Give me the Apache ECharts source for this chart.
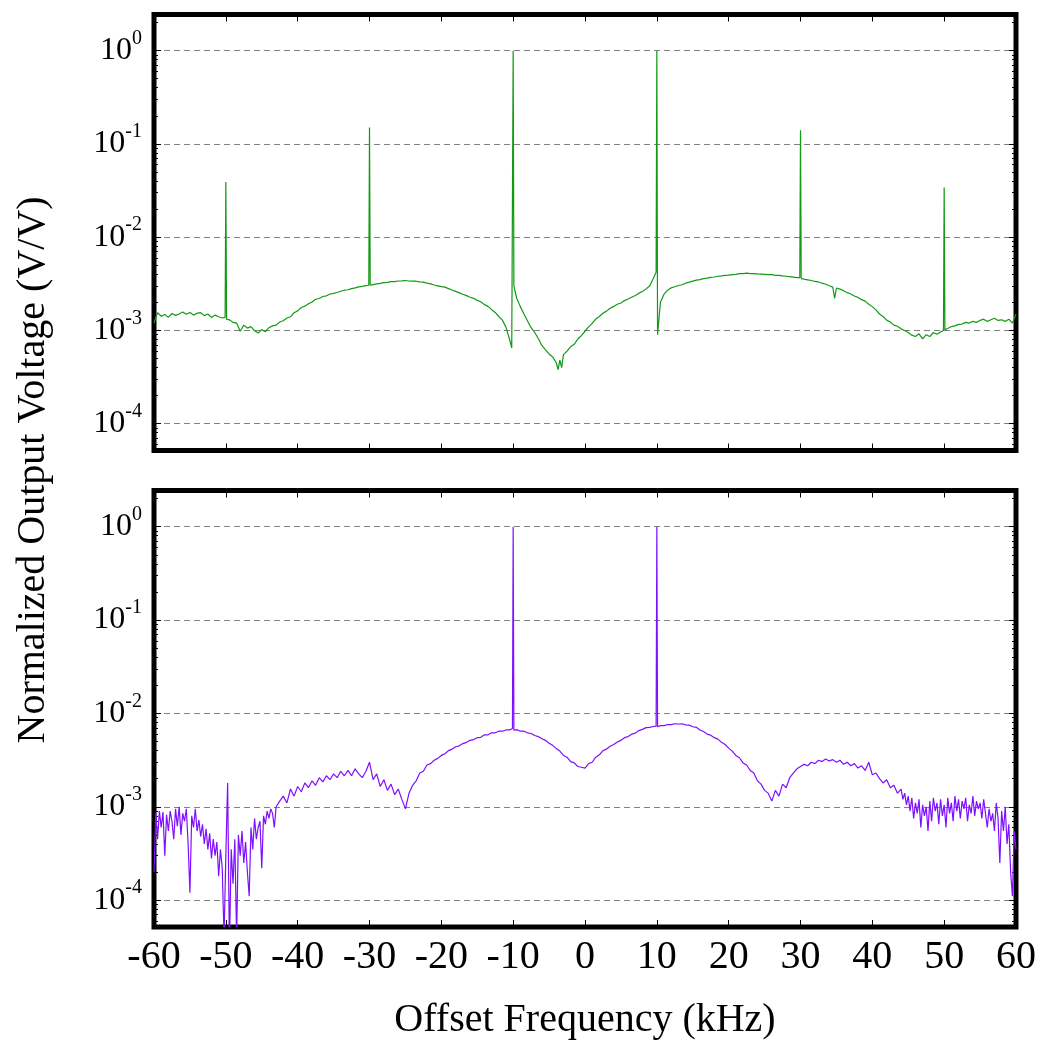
<!DOCTYPE html>
<html>
<head>
<meta charset="utf-8">
<script src="https://cdn.jsdelivr.net/npm/echarts@6/dist/echarts.min.js"></script>
<style>
html,body{margin:0;padding:0;background:#fff;}
#chart{width:1041px;height:1050px;}
</style>
</head>
<body>
<div id="chart"></div>
<script>
// ---------- DATA ----------
const xTicks = [-60,-50,-40,-30,-20,-10,0,10,20,30,40,50,60];
const yDecadeValues = [1e-4,1e-3,1e-2,1e-1,1];
const yMinorMantissas = [2,3,4,5,6,7,8,9];
const yMinorExponents = [-5,-4,-3,-2,-1,0];

// Top panel (green)
const greenFreq = [
  -60,-59.5,-59,-58.5,-58,-57.5,-57,-56.5,-56,-55.5,
  -55,-54.5,-54,-53.5,-53,-52.5,-52,-51.5,-51,-50.5,
  -50.1,-50,-49.9,-49.5,-49,-48.5,-48,-47.5,-47,-46.5,-46,-45.5,
  -45,-44.5,-44,-43.5,-43,-42.5,-42,-41.5,-41,-40.5,
  -40,-39.5,-39,-38.5,-38,-37.5,-37,-36.5,-36,-35.5,
  -35,-34.5,-34,-33.5,-33,-32.5,-32,-31.5,-31,-30.5,
  -30.1,-30,-29.9,-29.5,-29,-28.5,-28,-27.5,-27,-26.5,-26,-25.5,
  -25,-24.5,-24,-23.5,-23,-22.5,-22,-21.5,-21,-20.5,
  -20,-19.5,-19,-18.5,-18,-17.5,-17,-16.5,-16,-15.5,
  -15,-14.5,-14,-13.5,-13,-12.5,-12,-11.5,-11,-10.5,-10.2,
  -10,-9.9,-9.5,-9,-8.5,-8,-7.5,-7,-6.5,-6,-5.5,
  -5,-4.5,-4,-3.75,-3.5,-3.25,-3,-2.5,-2,-1.5,-1,-0.5,
  0,0.5,1,1.5,2,2.5,3,3.5,4,4.5,
  5,5.5,6,6.5,7,7.5,8,8.5,9,9.5,9.9,
  10,10.1,10.5,11,11.5,12,12.5,13,13.5,14,14.5,
  15,15.5,16,16.5,17,17.5,18,18.5,19,19.5,
  20,20.5,21,21.5,22,22.5,23,23.5,24,24.5,
  25,25.5,26,26.5,27,27.5,28,28.5,29,29.5,29.9,
  30,30.1,30.5,31,31.5,32,32.5,33,33.5,34,34.5,34.75,
  35,35.5,36,36.5,37,37.5,38,38.5,39,39.5,
  40,40.5,41,41.5,42,42.5,43,43.5,44,44.5,
  45,45.5,46,46.5,47,47.5,48,48.5,49,49.5,49.9,
  50,50.1,50.5,51,51.5,52,52.5,53,53.5,54,54.5,
  55,55.5,56,56.5,57,57.5,58,58.5,59,59.5,60
];
const greenVolt = [
  1.20e-3,1.55e-3,1.42e-3,1.48e-3,1.38e-3,1.52e-3,1.45e-3,1.50e-3,1.58e-3,1.49e-3,
  1.56e-3,1.46e-3,1.53e-3,1.55e-3,1.44e-3,1.50e-3,1.38e-3,1.46e-3,1.40e-3,1.36e-3,
  1.38e-3,0.039,1.32e-3,1.30e-3,1.22e-3,1.20e-3,0.98e-3,1.14e-3,1.06e-3,1.10e-3,0.99e-3,0.94e-3,
  1.02e-3,0.97e-3,1.07e-3,1.12e-3,1.14e-3,1.23e-3,1.27e-3,1.36e-3,1.40e-3,1.55e-3,
  1.62e-3,1.76e-3,1.82e-3,1.93e-3,2.02e-3,2.16e-3,2.20e-3,2.31e-3,2.35e-3,2.46e-3,
  2.50e-3,2.55e-3,2.63e-3,2.70e-3,2.73e-3,2.81e-3,2.86e-3,2.93e-3,2.97e-3,3.02e-3,
  3.05e-3,0.15,3.05e-3,3.10e-3,3.16e-3,3.20e-3,3.26e-3,3.27e-3,3.33e-3,3.34e-3,3.39e-3,3.40e-3,
  3.43e-3,3.39e-3,3.38e-3,3.37e-3,3.31e-3,3.29e-3,3.21e-3,3.16e-3,3.07e-3,3.01e-3,
  2.95e-3,2.91e-3,2.81e-3,2.71e-3,2.62e-3,2.53e-3,2.44e-3,2.36e-3,2.27e-3,2.21e-3,
  2.10e-3,2.03e-3,1.89e-3,1.81e-3,1.67e-3,1.56e-3,1.41e-3,1.29e-3,1.08e-3,0.80e-3,0.65e-3,
  1.0,3.0e-3,2.2e-3,1.80e-3,1.50e-3,1.26e-3,1.07e-3,0.95e-3,0.82e-3,0.69e-3,0.62e-3,
  0.56e-3,0.52e-3,0.45e-3,0.38e-3,0.48e-3,0.40e-3,0.55e-3,0.60e-3,0.67e-3,0.71e-3,0.81e-3,0.88e-3,
  0.98e-3,1.09e-3,1.19e-3,1.33e-3,1.41e-3,1.53e-3,1.61e-3,1.73e-3,1.81e-3,1.91e-3,
  1.97e-3,2.09e-3,2.17e-3,2.27e-3,2.37e-3,2.51e-3,2.61e-3,2.79e-3,3.00e-3,3.60e-3,4.20e-3,
  1.0,0.90e-3,2.0e-3,2.45e-3,2.70e-3,2.86e-3,2.94e-3,3.03e-3,3.09e-3,3.21e-3,3.29e-3,
  3.38e-3,3.46e-3,3.51e-3,3.59e-3,3.64e-3,3.71e-3,3.74e-3,3.81e-3,3.84e-3,3.89e-3,
  3.92e-3,3.96e-3,3.99e-3,4.06e-3,4.07e-3,4.11e-3,4.07e-3,4.07e-3,4.04e-3,4.02e-3,
  4.00e-3,3.97e-3,3.96e-3,3.89e-3,3.89e-3,3.84e-3,3.81e-3,3.77e-3,3.73e-3,3.69e-3,3.68e-3,
  0.14,3.60e-3,3.55e-3,3.49e-3,3.43e-3,3.35e-3,3.31e-3,3.21e-3,3.13e-3,3.01e-3,2.91e-3,2.20e-3,
  2.85e-3,2.77e-3,2.66e-3,2.54e-3,2.46e-3,2.34e-3,2.26e-3,2.14e-3,2.06e-3,1.91e-3,
  1.80e-3,1.66e-3,1.50e-3,1.41e-3,1.29e-3,1.23e-3,1.14e-3,1.11e-3,1.04e-3,1.00e-3,
  0.95e-3,0.89e-3,0.86e-3,0.92e-3,0.81e-3,0.90e-3,0.86e-3,0.95e-3,0.91e-3,0.96e-3,1.00e-3,
  0.034,1.02e-3,1.05e-3,1.10e-3,1.12e-3,1.16e-3,1.17e-3,1.22e-3,1.20e-3,1.25e-3,1.22e-3,
  1.28e-3,1.32e-3,1.25e-3,1.30e-3,1.35e-3,1.28e-3,1.30e-3,1.25e-3,1.32e-3,1.20e-3,1.50e-3
];

// Bottom panel (purple)
const purpleFreq = [
  -60,-59.75,-59.5,-59.25,-59,-58.75,-58.5,-58.25,-58,-57.75,
  -57.5,-57.25,-57,-56.75,-56.5,-56.25,-56,-55.75,-55.5,-55.25,
  -55,-54.75,-54.5,-54.25,-54,-53.75,-53.5,-53.25,-53,-52.75,
  -52.5,-52.25,-52,-51.75,-51.5,-51.25,-51,-50.75,-50.5,-50.25,
  -50,-49.75,-49.5,-49.25,-49,-48.75,-48.5,-48.25,-48,-47.75,
  -47.5,-47.25,-47,-46.75,-46.5,-46.25,-46,-45.75,-45.5,-45.25,
  -45,-44.75,-44.5,-44.25,-44,-43.75,-43.5,-43.25,-43,
  -42.5,-42,-41.5,-41,-40.5,-40,-39.5,-39,-38.5,-38,
  -37.5,-37,-36.5,-36,-35.5,-35,-34.5,-34,-33.5,-33,
  -32.5,-32,-31.5,-31,-30.5,-30,-29.5,-29,-28.5,-28,
  -27.5,-27,-26.5,-26,-25.5,-25,-24.5,-24,-23.5,-23,
  -22.5,-22,-21.5,-21,-20.5,-20,-19.5,-19,-18.5,-18,
  -17.5,-17,-16.5,-16,-15.5,-15,-14.5,-14,-13.5,-13,
  -12.5,-12,-11.5,-11,-10.5,-10.1,-10,-9.9,-9.5,-9,
  -8.5,-8,-7.5,-7,-6.5,-6,-5.5,-5,-4.5,-4,
  -3.5,-3,-2.5,-2,-1.5,-1,-0.5,0,0.5,1,
  1.5,2,2.5,3,3.5,4,4.5,5,5.5,6,
  6.5,7,7.5,8,8.5,9,9.5,9.9,10,10.1,
  10.5,11,11.5,12,12.5,13,13.5,14,14.5,15,
  15.5,16,16.5,17,17.5,18,18.5,19,19.5,20,
  20.5,21,21.5,22,22.5,23,23.5,24,24.5,25,
  25.5,26,26.5,27,27.5,28,28.5,29,29.5,30,
  30.5,31,31.5,32,32.5,33,33.5,34,34.5,35,
  35.5,36,36.5,37,37.5,38,38.5,39,39.5,40,
  40.5,41,41.5,42,42.5,43,43.5,44,
  44.25,44.5,44.75,45,45.25,45.5,45.75,46,46.25,46.5,
  46.75,47,47.25,47.5,47.75,48,48.25,48.5,48.75,49,
  49.25,49.5,49.75,50,50.25,50.5,50.75,51,51.25,51.5,
  51.75,52,52.25,52.5,52.75,53,53.25,53.5,53.75,54,
  54.25,54.5,54.75,55,55.25,55.5,55.75,56,56.25,56.5,
  56.75,57,57.25,57.5,57.75,58,58.25,58.5,58.75,59,
  59.25,59.5,59.75,60
];
const purpleVolt = [
  0.20e-3,0.85e-3,0.45e-3,0.90e-3,0.60e-3,0.88e-3,0.30e-3,0.82e-3,0.55e-3,0.90e-3,
  0.70e-3,0.45e-3,0.95e-3,0.62e-3,1.00e-3,0.50e-3,0.85e-3,0.70e-3,0.95e-3,0.40e-3,
  0.12e-3,0.80e-3,0.60e-3,0.95e-3,0.55e-3,0.72e-3,0.48e-3,0.65e-3,0.40e-3,0.58e-3,
  0.35e-3,0.52e-3,0.28e-3,0.45e-3,0.30e-3,0.42e-3,0.18e-3,0.35e-3,0.22e-3,0.04e-3,
  0.30e-3,1.80e-3,0.03e-3,0.35e-3,0.15e-3,0.45e-3,0.04e-3,0.50e-3,0.30e-3,0.55e-3,
  0.25e-3,0.42e-3,0.20e-3,0.11e-3,0.60e-3,0.35e-3,0.75e-3,0.45e-3,0.60e-3,0.70e-3,
  0.22e-3,0.80e-3,0.65e-3,0.90e-3,0.75e-3,0.95e-3,0.85e-3,0.60e-3,1.00e-3,
  1.15e-3,1.30e-3,1.10e-3,1.55e-3,1.30e-3,1.65e-3,1.45e-3,1.80e-3,1.60e-3,1.90e-3,
  1.70e-3,2.05e-3,1.85e-3,2.15e-3,1.95e-3,2.25e-3,2.05e-3,2.40e-3,2.15e-3,2.45e-3,
  2.15e-3,2.55e-3,2.25e-3,2.05e-3,2.40e-3,3.00e-3,1.95e-3,2.25e-3,1.65e-3,1.95e-3,
  1.50e-3,1.75e-3,1.35e-3,1.55e-3,1.20e-3,0.95e-3,1.40e-3,1.70e-3,1.90e-3,2.30e-3,
  2.40e-3,2.80e-3,2.90e-3,3.15e-3,3.30e-3,3.55e-3,3.70e-3,4.00e-3,4.15e-3,4.40e-3,
  4.50e-3,4.75e-3,4.90e-3,5.15e-3,5.25e-3,5.50e-3,5.55e-3,5.90e-3,5.90e-3,6.20e-3,
  6.20e-3,6.45e-3,6.45e-3,6.65e-3,6.65e-3,6.90e-3,1.0,6.60e-3,6.70e-3,6.45e-3,
  6.45e-3,6.20e-3,6.10e-3,5.80e-3,5.65e-3,5.35e-3,5.15e-3,4.80e-3,4.55e-3,4.20e-3,
  3.95e-3,3.55e-3,3.40e-3,3.05e-3,2.95e-3,2.70e-3,2.65e-3,2.60e-3,2.90e-3,3.00e-3,
  3.40e-3,3.60e-3,4.00e-3,4.15e-3,4.45e-3,4.65e-3,4.95e-3,5.15e-3,5.50e-3,5.65e-3,
  6.00e-3,6.15e-3,6.55e-3,6.75e-3,7.05e-3,7.10e-3,7.25e-3,7.30e-3,1.0,7.20e-3,
  7.40e-3,7.40e-3,7.60e-3,7.60e-3,7.75e-3,7.70e-3,7.75e-3,7.55e-3,7.50e-3,7.20e-3,
  7.10e-3,6.65e-3,6.40e-3,6.00e-3,5.85e-3,5.50e-3,5.30e-3,4.90e-3,4.65e-3,4.25e-3,
  3.95e-3,3.55e-3,3.35e-3,2.95e-3,2.80e-3,2.45e-3,2.30e-3,1.90e-3,1.75e-3,1.50e-3,
  1.40e-3,1.15e-3,1.50e-3,1.30e-3,1.75e-3,1.60e-3,2.05e-3,2.30e-3,2.55e-3,2.70e-3,
  2.85e-3,2.75e-3,3.00e-3,2.90e-3,3.15e-3,3.05e-3,3.25e-3,3.10e-3,3.20e-3,3.00e-3,
  3.15e-3,2.85e-3,3.00e-3,2.75e-3,2.90e-3,2.60e-3,2.75e-3,2.45e-3,3.00e-3,2.20e-3,
  2.30e-3,2.00e-3,1.80e-3,1.95e-3,1.60e-3,1.70e-3,1.40e-3,1.55e-3,
  1.20e-3,1.40e-3,1.05e-3,1.30e-3,0.90e-3,1.25e-3,0.75e-3,1.10e-3,0.85e-3,1.20e-3,
  0.60e-3,1.05e-3,0.80e-3,1.00e-3,0.55e-3,1.15e-3,0.70e-3,1.25e-3,0.90e-3,1.10e-3,
  0.65e-3,1.20e-3,0.80e-3,1.05e-3,0.60e-3,1.25e-3,0.85e-3,1.10e-3,0.70e-3,1.30e-3,
  0.90e-3,1.20e-3,0.75e-3,1.15e-3,0.95e-3,1.25e-3,0.70e-3,1.05e-3,0.85e-3,1.30e-3,
  0.80e-3,1.15e-3,0.95e-3,1.10e-3,0.75e-3,1.20e-3,0.85e-3,0.60e-3,0.95e-3,0.70e-3,
  0.85e-3,0.55e-3,1.10e-3,0.75e-3,0.25e-3,0.90e-3,0.55e-3,1.00e-3,0.40e-3,0.65e-3,
  0.20e-3,0.11e-3,0.55e-3,0.35e-3
];

// ---------- CHART ----------
const FONT = "'Liberation Serif', 'Times New Roman', serif";
const Y_MIN = 5.16e-5, Y_MAX = 2.44;

const greenData = greenFreq.map((f, i) => [f, greenVolt[i]]);
const purpleData = purpleFreq.map((f, i) => [f, purpleVolt[i]]);

const yMinorVals = [];
yMinorExponents.forEach(e => yMinorMantissas.forEach(m => {
  const v = m * Math.pow(10, e);
  if (v > Y_MIN && v < Y_MAX) yMinorVals.push(v);
}));

function yLabelFmt(v) {
  const e = Math.log10(v);
  const r = Math.round(e);
  if (Math.abs(e - r) > 1e-6) return '';
  return '{b|10}{s|' + r + '}';
}

function xAxisCfg(grid, pos, labels) {
  return {
    gridIndex: grid, type: 'value', min: -60, max: 60, interval: 10, position: pos,
    axisLine: {show: false, onZero: false},
    axisTick: {show: true, inside: true, length: 7, customValues: xTicks, lineStyle: {color: '#000', width: 1}},
    axisLabel: {show: labels, fontSize: 40, fontFamily: FONT, color: '#000', margin: 10,
      customValues: xTicks, formatter: v => String(v)},
    splitLine: {show: false}
  };
}
function yMainAxis(grid) {
  return {
    gridIndex: grid, type: 'log', logBase: 10, min: Y_MIN, max: Y_MAX, position: 'left',
    axisLine: {show: false, onZero: false},
    axisTick: {show: true, inside: true, length: 7, customValues: yDecadeValues,
      lineStyle: {color: '#000', width: 1}},
    axisLabel: {show: true, margin: 12, formatter: yLabelFmt, customValues: yDecadeValues,
      rich: {
        b: {fontSize: 32, fontFamily: FONT, color: '#000'},
        s: {fontSize: 20, fontFamily: FONT, color: '#000', padding: [0, 0, 24, 0]}
      }},
    splitLine: {show: true, lineStyle: {type: [6, 4], color: '#808080', width: 1}},
    minorTick: {show: false}
  };
}
function yTickAxis(grid, pos, vals, len) {
  return {
    gridIndex: grid, type: 'log', logBase: 10, min: Y_MIN, max: Y_MAX, position: pos,
    axisLine: {show: false, onZero: false},
    axisTick: {show: true, inside: true, length: len, customValues: vals,
      lineStyle: {color: '#000', width: 1}},
    axisLabel: {show: false},
    splitLine: {show: false},
    minorTick: {show: false}
  };
}

const chart = echarts.init(document.getElementById('chart'), null, {renderer: 'canvas'});
chart.setOption({
  animation: false,
  backgroundColor: '#fff',
  grid: [
    {left: 154, top: 14.5, width: 862, height: 436, show: true, borderColor: '#000', borderWidth: 5, backgroundColor: 'transparent'},
    {left: 154, top: 490.5, width: 862, height: 436.5, show: true, borderColor: '#000', borderWidth: 5, backgroundColor: 'transparent'}
  ],
  xAxis: [
    xAxisCfg(0, 'bottom', false), xAxisCfg(0, 'top', false),
    xAxisCfg(1, 'bottom', true), xAxisCfg(1, 'top', false)
  ],
  yAxis: [
    yMainAxis(0), yTickAxis(0, 'left', yMinorVals, 4),
    yTickAxis(0, 'right', yDecadeValues, 7), yTickAxis(0, 'right', yMinorVals, 4),
    yMainAxis(1), yTickAxis(1, 'left', yMinorVals, 4),
    yTickAxis(1, 'right', yDecadeValues, 7), yTickAxis(1, 'right', yMinorVals, 4)
  ],
  graphic: [
    {type: 'text', x: 33, y: 470, rotation: Math.PI / 2,
      style: {text: 'Normalized Output Voltage (V/V)', font: '40px ' + FONT, fill: '#000', align: 'center', verticalAlign: 'middle'}},
    {type: 'text', x: 585, y: 1020,
      style: {text: 'Offset Frequency (kHz)', font: '40px ' + FONT, fill: '#000', align: 'center', verticalAlign: 'middle'}}
  ],
  series: [
    {type: 'line', name: 'top', xAxisIndex: 0, yAxisIndex: 0, data: greenData, showSymbol: false,
      lineStyle: {color: '#129a12', width: 1.2}, z: 1},
    {type: 'line', name: 'bottom', xAxisIndex: 2, yAxisIndex: 4, data: purpleData, showSymbol: false,
      lineStyle: {color: '#7f0fff', width: 1.2}, z: 1}
  ]
});
</script>
</body>
</html>
